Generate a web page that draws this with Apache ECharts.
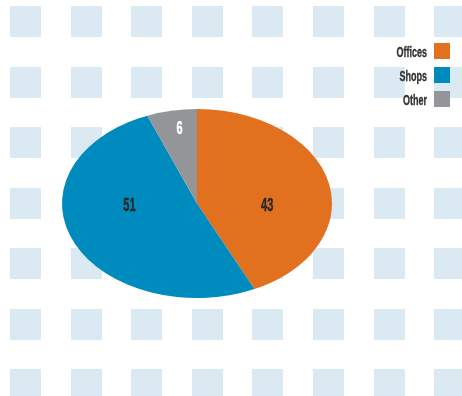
<!DOCTYPE html>
<html>
<head>
<meta charset="utf-8">
<script src="https://cdn.jsdelivr.net/npm/echarts@6/dist/echarts.min.js"></script>
<style>
  html, body { margin: 0; padding: 0; background: #ffffff; }
  #chart { width: 462px; height: 396px; }
</style>
</head>
<body>
<div id="chart"></div>
<script>
// Floor-space split by use
const categories = ['Offices', 'Shops', 'Other'];
const values = [43, 51, 6];
const colors = ['#E1701F', '#008BBE', '#939598'];
const labelColors = ['#2a2a2a', '#2a2a2a', '#ffffff'];

// Ellipse geometry of the pie
const PIE = { cx: 197, cy: 203.5, rx: 135, ry: 94.5 };
// Label anchors, as fractions of rx / ry from the pie centre
const labelAnchors = [[0.52, 0.02], [-0.5, 0.02], [-0.13, -0.79]];
const FONT = '"Liberation Sans", Arial, sans-serif';

const chart = echarts.init(document.getElementById('chart'), null, { renderer: 'canvas' });

// Background tile pattern
const tiles = [];
for (let j = 0; j < 7; j++) {
  for (let i = 0; i < 8; i++) {
    tiles.push({
      type: 'rect',
      silent: true,
      z: -10,
      shape: { x: Math.round(10 + i * 60.6), y: Math.round(6 + j * 60.5), width: 31, height: 31 },
      style: { fill: '#DAE9F2' }
    });
  }
}

// Legend: label on the left, swatch on the right
const legendItems = [];
categories.forEach((name, k) => {
  const y = 43 + k * 24;
  legendItems.push({
    type: 'rect',
    shape: { x: 434, y: y, width: 16, height: 16 },
    style: { fill: colors[k] }
  });
  legendItems.push({
    type: 'text',
    x: 427, y: y + 9.5,
    scaleX: 0.6,
    style: {
      text: name, align: 'right', verticalAlign: 'middle',
      fontFamily: FONT, fontWeight: 'bold', fontSize: 15, fill: '#333333',
      stroke: '#333333', lineWidth: 0.4
    }
  });
});

const total = values.reduce((a, b) => a + b, 0);

chart.setOption({
  animation: false,
  graphic: tiles.concat(legendItems),
  series: [{
    type: 'custom',
    coordinateSystem: 'none',
    data: values.map((v, k) => ({ name: categories[k], value: v })),
    renderItem: function (params, api) {
      const k = params.dataIndex;
      let before = 0;
      for (let m = 0; m < k; m++) before += values[m];
      const a0 = -Math.PI / 2 + (before / total) * Math.PI * 2;
      const a1 = -Math.PI / 2 + ((before + values[k]) / total) * Math.PI * 2;
      const anchor = labelAnchors[k];
      return {
        type: 'group',
        children: [
          {
            type: 'group',
            x: PIE.cx, y: PIE.cy,
            scaleX: PIE.rx / PIE.ry,
            children: [{
              type: 'sector',
              shape: { cx: 0, cy: 0, r0: 0, r: PIE.ry, startAngle: a0, endAngle: a1, clockwise: true },
              style: { fill: colors[k] }
            }]
          },
          {
            type: 'text',
            x: PIE.cx + anchor[0] * PIE.rx,
            y: PIE.cy + anchor[1] * PIE.ry,
            scaleX: 0.58,
            style: {
              text: String(values[k]),
              align: 'center', verticalAlign: 'middle',
              fontFamily: FONT, fontWeight: 'bold', fontSize: 19, fill: labelColors[k],
              stroke: labelColors[k], lineWidth: 0.5
            }
          }
        ]
      };
    }
  }]
});
</script>
</body>
</html>
